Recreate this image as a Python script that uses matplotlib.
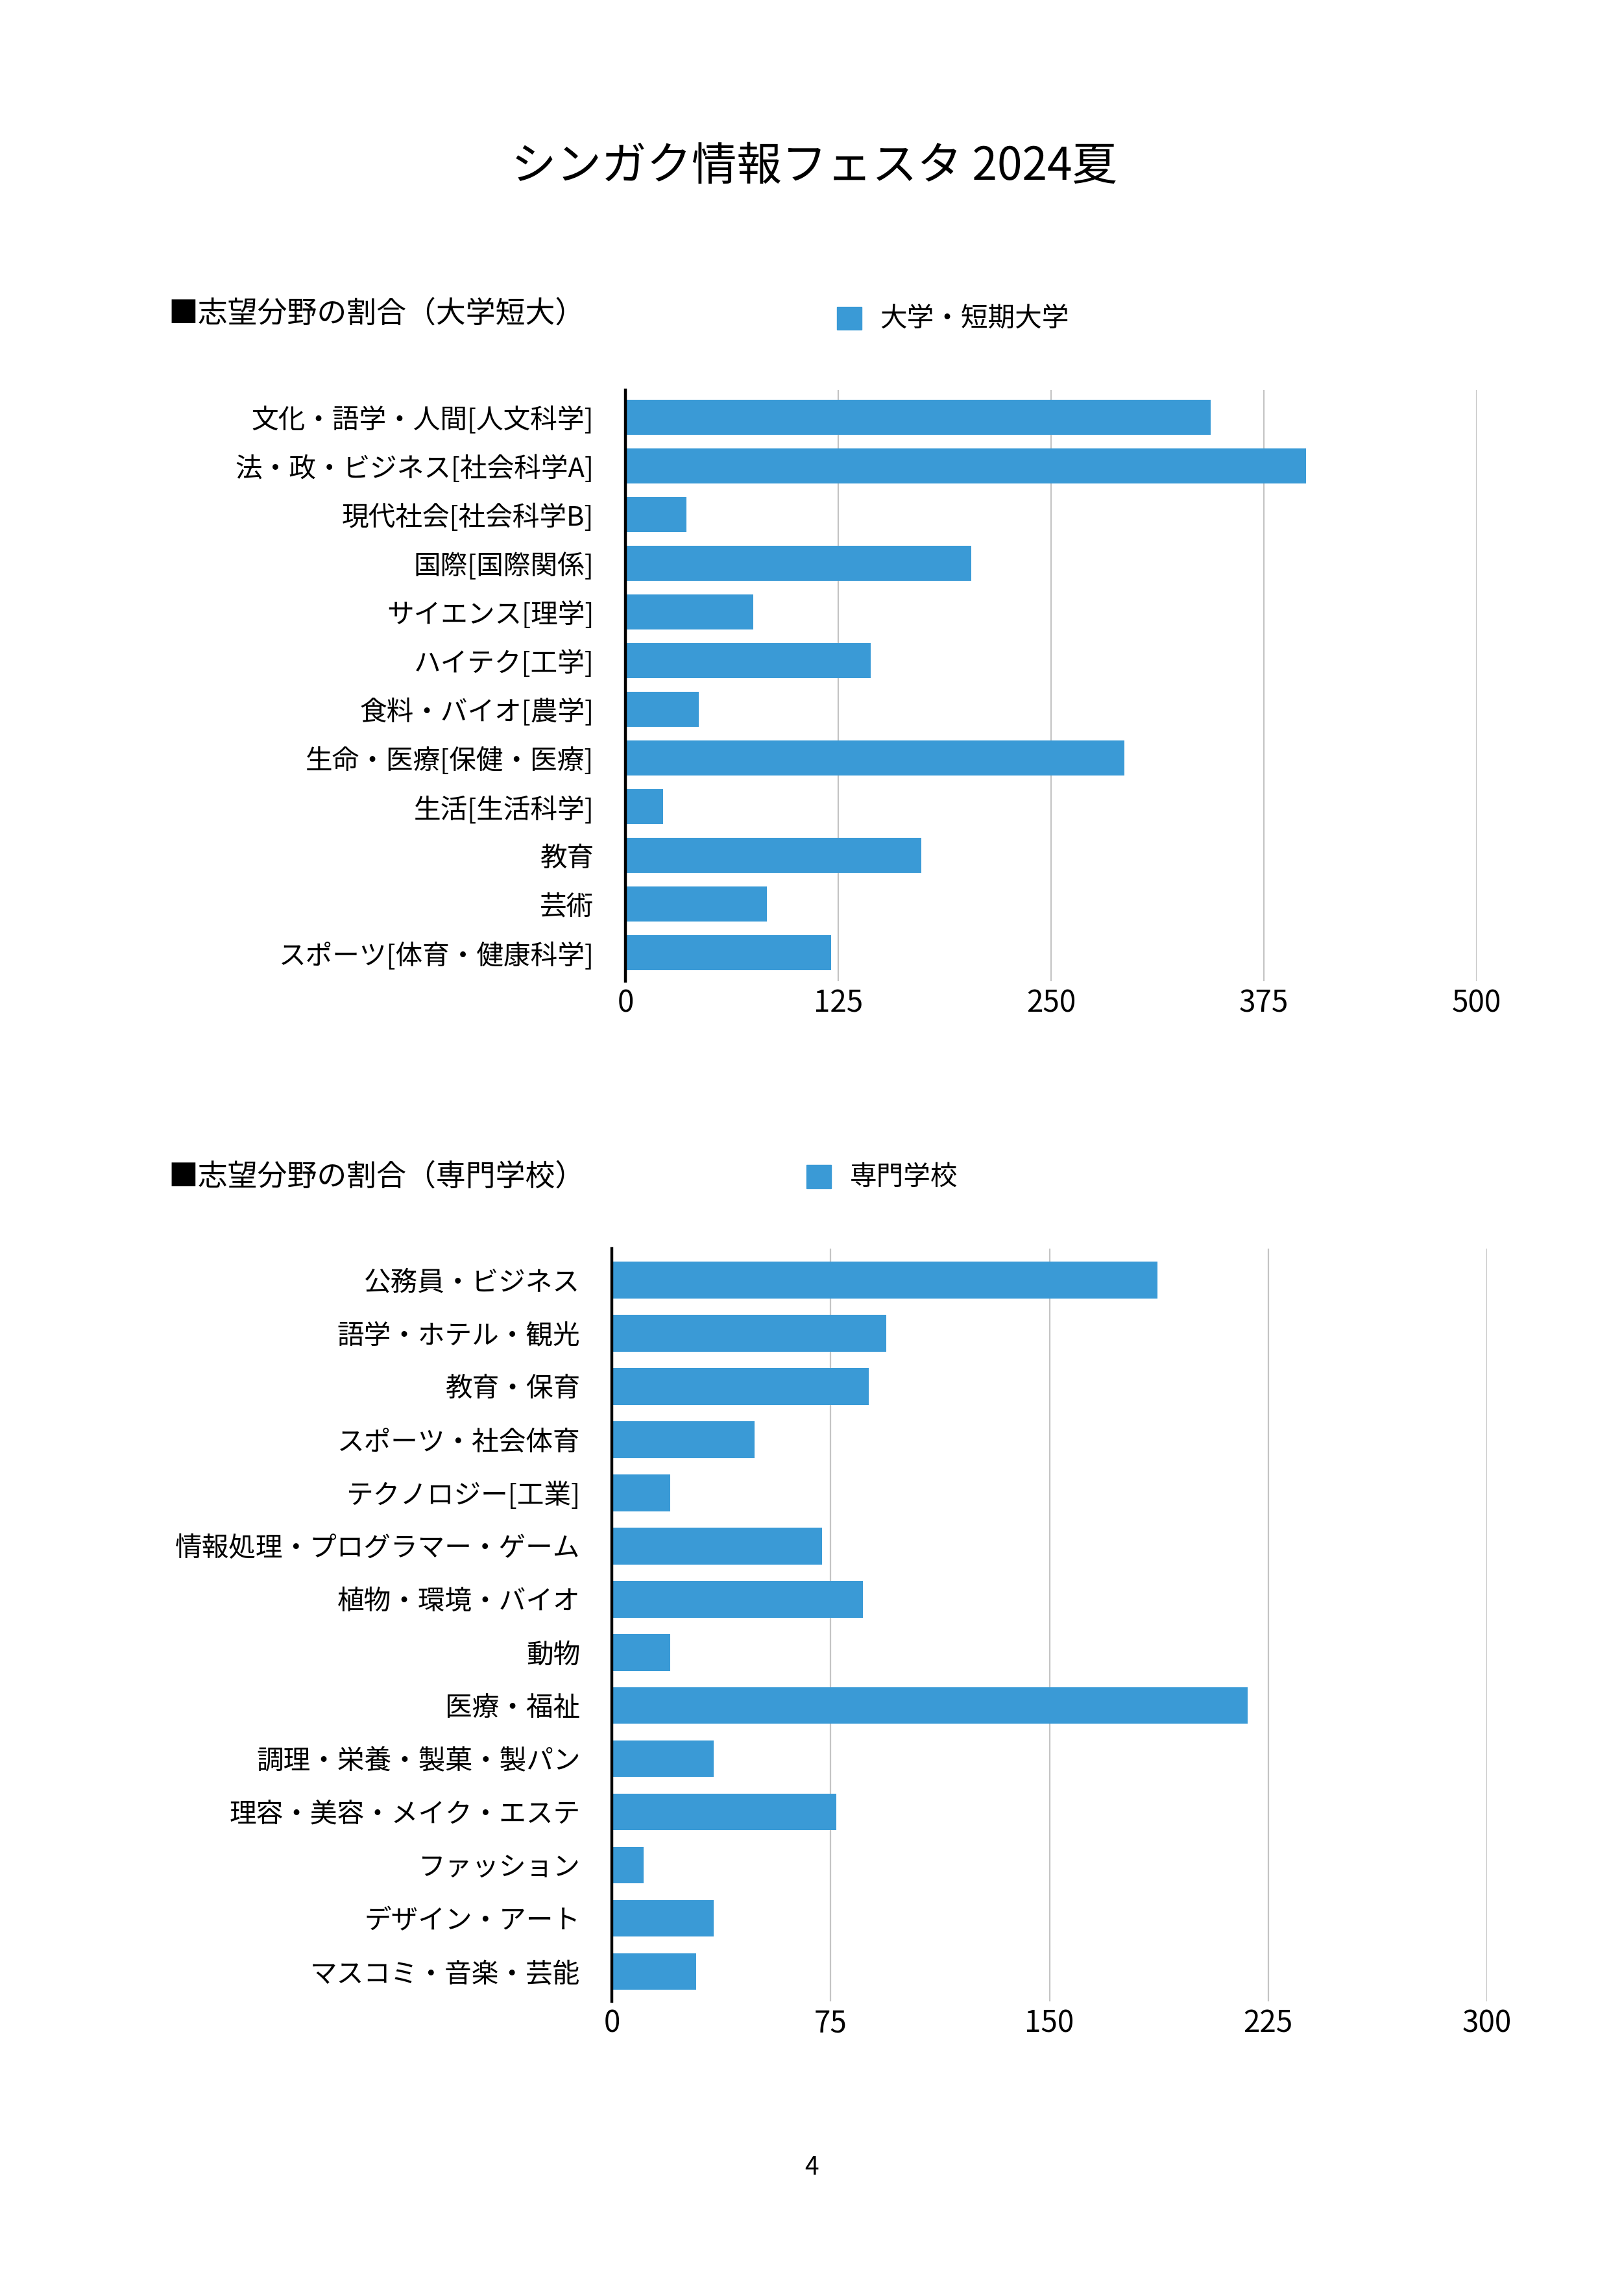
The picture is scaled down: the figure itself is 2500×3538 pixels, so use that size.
import matplotlib
matplotlib.use("Agg")
import matplotlib.pyplot as plt
from matplotlib.patches import Rectangle

plt.rcParams['font.family'] = ['Noto Sans CJK JP', 'DejaVu Sans']

title = "シンガク情報フェスタ 2024夏"
page_number = "4"

univ_header = "■志望分野の割合（大学短大）"
univ_legend = "大学・短期大学"
univ_categories = [
    "文化・語学・人間[人文科学]",
    "法・政・ビジネス[社会科学A]",
    "現代社会[社会科学B]",
    "国際[国際関係]",
    "サイエンス[理学]",
    "ハイテク[工学]",
    "食料・バイオ[農学]",
    "生命・医療[保健・医療]",
    "生活[生活科学]",
    "教育",
    "芸術",
    "スポーツ[体育・健康科学]",
]
univ_values = [344, 400, 36, 203, 75, 144, 43, 293, 22, 174, 83, 121]
univ_ticks = [0, 125, 250, 375, 500]

voc_header = "■志望分野の割合（専門学校）"
voc_legend = "専門学校"
voc_categories = [
    "公務員・ビジネス",
    "語学・ホテル・観光",
    "教育・保育",
    "スポーツ・社会体育",
    "テクノロジー[工業]",
    "情報処理・プログラマー・ゲーム",
    "植物・環境・バイオ",
    "動物",
    "医療・福祉",
    "調理・栄養・製菓・製パン",
    "理容・美容・メイク・エステ",
    "ファッション",
    "デザイン・アート",
    "マスコミ・音楽・芸能",
]
voc_values = [187, 94, 88, 49, 20, 72, 86, 20, 218, 35, 77, 11, 35, 29]
voc_ticks = [0, 75, 150, 225, 300]

BAR = "#3A9AD6"
GRID = "#C4C4C4"

fig = plt.figure(figsize=(25, 35.38), dpi=100)
fig.patch.set_facecolor("white")

fig.text(0.502, 0.9272, title, ha="center", va="center", fontsize=50, color="black")


def draw(rect, cats, vals, ticks, ylim, bar_h):
    ax = fig.add_axes(rect)
    y = list(range(len(cats)))
    ax.barh(y, vals, height=bar_h, color=BAR, zorder=2)
    ax.set_xlim(ticks[0], ticks[-1])
    ax.set_ylim(*ylim)
    ax.set_yticks(y)
    ax.set_yticklabels(cats, fontsize=30)
    ax.set_xticks(ticks)
    ax.set_xticklabels([str(t) for t in ticks], fontsize=33)
    ax.tick_params(axis="y", length=0, pad=35)
    ax.tick_params(axis="x", length=0, pad=7.5)
    for s in ["top", "right", "bottom"]:
        ax.spines[s].set_visible(False)
    ax.spines["left"].set_linewidth(3.2)
    ax.spines["left"].set_color("black")
    ax.spines["left"].set_zorder(3)
    ax.xaxis.grid(True, color=GRID, linewidth=1.6, zorder=0)
    ax.set_axisbelow(True)
    return ax


ax1 = draw([0.3856, 0.57264, 0.5247, 0.25749], univ_categories, univ_values,
           univ_ticks, (11.58, -0.56), 0.72)
ax2 = draw([0.3772, 0.12832, 0.5396, 0.32787], voc_categories, voc_values,
           voc_ticks, (13.56, -0.59), 0.69)

# headers
fig.text(0.1036, 0.8635, univ_header, ha="left", va="center", fontsize=33)
fig.text(0.1036, 0.4876, voc_header, ha="left", va="center", fontsize=33)

# legends
fig.patches.append(Rectangle((0.516, 0.8564), 0.0152, 0.0098,
                             transform=fig.transFigure, color=BAR))
fig.text(0.5424, 0.8612, univ_legend, ha="left", va="center", fontsize=30)
fig.patches.append(Rectangle((0.4972, 0.4826), 0.0152, 0.0100,
                             transform=fig.transFigure, color=BAR))
fig.text(0.524, 0.4873, voc_legend, ha="left", va="center", fontsize=30)

fig.text(0.5004, 0.056, page_number, ha="center", va="center", fontsize=28)

fig.savefig("out.png", dpi=100, facecolor="white")
